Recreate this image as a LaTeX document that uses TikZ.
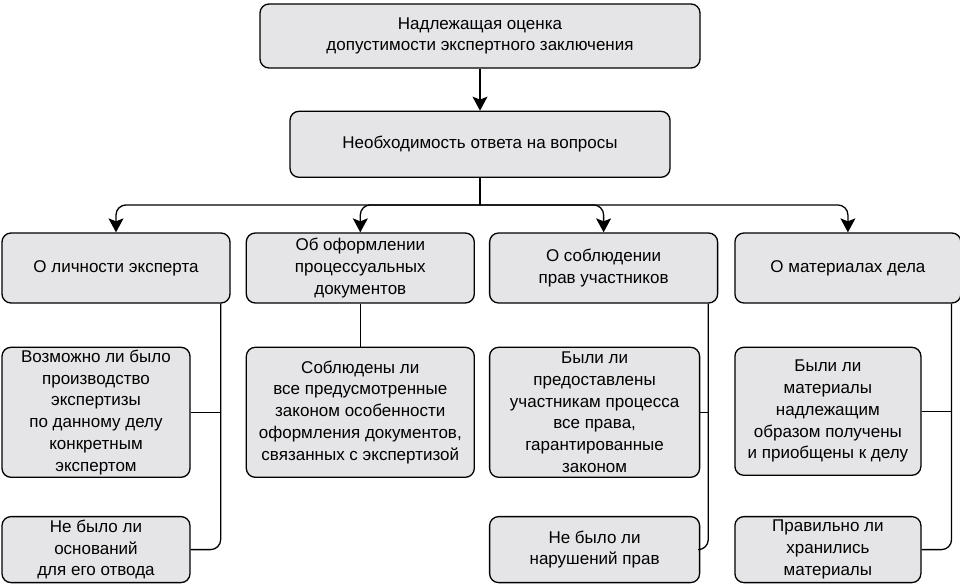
\documentclass[tikz,border=0pt]{standalone}
\usepackage{fontspec}
\setmainfont{Liberation Sans}
\usetikzlibrary{positioning}
\usetikzlibrary{arrows.meta}
\definecolor{boxgray}{RGB}{229,229,231}

\begin{document}
\begin{tikzpicture}[x=1pt, y=1pt, node distance=42pt and 14pt, common/.style={draw, fill=boxgray, rounded corners=9pt, line width=1.3pt, align=center, inner sep=2pt, font=\fontsize{17}{21.8}\selectfont}]
\tikzstyle{link}=[line width=1.3pt, rounded corners=10pt]
\tikzstyle{arrow}=[link, -{Stealth[length=14pt, width=15pt, inset=3pt, sharp]}]

\useasboundingbox (0,0) rectangle (960,-585);

\node (N0) [common, minimum width=440pt, minimum height=64pt] at (480,-36) {Надлежащая оценка\\допустимости экспертного заключения};
\node (N1) [common, minimum width=380pt, minimum height=66pt, below=42pt of N0] {Необходимость ответа на вопросы};

\node (Q1) [common, minimum width=228pt, minimum height=70pt] at (116,-268) {О личности эксперта};
\node (Q2) [common, minimum width=228pt, minimum height=70pt, right=15pt of Q1] {Об оформлении\\процессуальных\\документов};
\node (Q3) [common, minimum width=228pt, minimum height=70pt, right=14pt of Q2] {О соблюдении\\прав участников};
\node (Q4) [common, minimum width=226pt, minimum height=70pt, right=16pt of Q3] {О материалах дела};

\node (A1) [common, minimum width=188pt, minimum height=130pt, below right=43pt and 0pt of Q1.south west] {Возможно ли было\\производство\\экспертизы\\по данному делу\\конкретным\\экспертом};
\node (A2) [common, minimum width=188pt, minimum height=66pt, below=38pt of A1] {Не было ли\\оснований\\для его отвода};
\node (B1) [common, minimum width=228pt, minimum height=130pt, below=43pt of Q2] {Соблюдены ли\\все предусмотренные\\законом особенности\\оформления документов,\\связанных с экспертизой};
\node (C1) [common, minimum width=210pt, minimum height=130pt, below right=43pt and 0pt of Q3.south west] {Были ли\\предоставлены\\участникам процесса\\все права,\\гарантированные\\законом};
\node (C2) [common, minimum width=210pt, minimum height=66pt, below=38pt of C1] {Не было ли\\нарушений прав};
\node (D1) [common, minimum width=186pt, minimum height=128pt, below right=43pt and 0pt of Q4.south west] {Были ли\\материалы\\надлежащим\\образом получены\\и приобщены к делу};
\node (D2) [common, minimum width=186pt, minimum height=66pt, below=40pt of D1] {Правильно ли\\хранились\\материалы};

% arriba
\coordinate (fork) at ([yshift=-27pt]N1.south);
\draw [arrow] (N0) -- (N1);
\draw [link] (N1) -- (fork);
\draw [arrow] (fork) -| (Q1.north);
\draw [arrow] (fork) -| (Q2.north);
\draw [arrow] (fork) -| (Q3.north);
\draw [arrow] (fork) -| (Q4.north);

% abajo
\coordinate (QA) at ([xshift=-10pt]Q1.south east);
\coordinate (QC) at ([xshift=-10pt]Q3.south east);
\coordinate (QD) at ([xshift=-10pt]Q4.south east);
\draw [link] (A2.east) -| (QA);
\draw [link] (A1.east) -- (A1.east -| QA);
\draw [link] (Q2) -- (B1);
\draw [link] (C2.east) -| (QC);
\draw [link] (C1.east) -- (C1.east -| QC);
\draw [link] (D2.east) -| (QD);
\draw [link] (D1.east) -- (D1.east -| QD);
\end{tikzpicture}
\end{document}
